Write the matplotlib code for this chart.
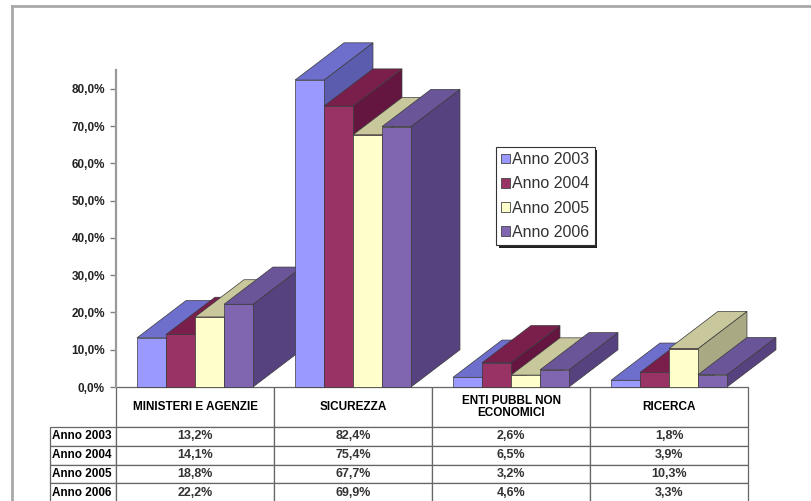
import matplotlib
matplotlib.use('Agg')
import matplotlib.pyplot as plt
from matplotlib.patches import Polygon, Patch
from matplotlib.lines import Line2D
from matplotlib.table import Table

plt.rcParams['font.family'] = ['Liberation Sans', 'DejaVu Sans']

categories = ['MINISTERI E AGENZIE', 'SICUREZZA', 'ENTI PUBBL NON\nECONOMICI', 'RICERCA']
years = ['Anno 2003', 'Anno 2004', 'Anno 2005', 'Anno 2006']
v2003 = [13.2, 82.4, 2.6, 1.8]
v2004 = [14.1, 75.4, 6.5, 3.9]
v2005 = [18.8, 67.7, 3.2, 10.3]
v2006 = [22.2, 69.9, 4.6, 3.3]
series = [v2003, v2004, v2005, v2006]
yticks = [0, 10, 20, 30, 40, 50, 60, 70, 80]

# front, top, side colours per series
colors = [
    ('#9999ff', '#6e6ecc', '#5c5cae'),
    ('#993366', '#7a1f4c', '#641540'),
    ('#ffffcc', '#c8c89c', '#a9a984'),
    ('#8066b0', '#6a5598', '#574280'),
]

W, H = 811, 501
fig = plt.figure(figsize=(W / 100, H / 100), dpi=100)
fig.patch.set_facecolor('white')

# plot area: x 116..748 px, y 70..387 px
AW, AH = 632, 317
ax = fig.add_axes([116 / W, 114 / H, AW / W, AH / H])
ax.set_xlim(-0.5, len(categories) - 0.5)
ax.set_ylim(0, 85.1)
ax.patch.set_visible(False)

bar_w = 0.1835
dx, dy = 0.31, 10.0
edge = '#3a3a3a'
z = 2
for i in range(len(categories)):
    for j, vals in enumerate(series):
        h = vals[i]
        x0 = i + (j - 2) * bar_w
        x1 = x0 + bar_w
        front, top, side = colors[j]
        side_p = Polygon([(x1, 0), (x1 + dx, dy), (x1 + dx, h + dy), (x1, h)],
                         closed=True, fc=side, ec=edge, lw=0.5, zorder=z, clip_on=False)
        top_p = Polygon([(x0, h), (x1, h), (x1 + dx, h + dy), (x0 + dx, h + dy)],
                        closed=True, fc=top, ec=edge, lw=0.5, zorder=z + 0.1, clip_on=False)
        front_p = Polygon([(x0, 0), (x1, 0), (x1, h), (x0, h)],
                          closed=True, fc=front, ec=edge, lw=0.5, zorder=z + 0.2, clip_on=False)
        ax.add_patch(side_p)
        ax.add_patch(top_p)
        ax.add_patch(front_p)
        z += 1

for s in ['top', 'right', 'bottom']:
    ax.spines[s].set_visible(False)
ax.spines['left'].set_color('#9a9a9a')
ax.spines['left'].set_linewidth(1.6)
ax.set_xticks([])
ax.set_yticks(yticks, ['{:.1f}%'.format(t).replace('.', ',') for t in yticks],
              fontweight='bold', fontsize=8.5, color='#222222')
ax.tick_params(axis='y', length=4, width=1, color='#808080', direction='out', pad=4)

# data table under the chart (sizes in axes fractions)
col_w = 158 / AW
lab_w = 66 / AW
head_h = 40 / AH
row_h = 18.75 / AH
tab = Table(ax, bbox=[0, -(head_h + 4 * row_h), 1, head_h + 4 * row_h])
tab.auto_set_font_size(False)
line_c = '#666666'
for c, name in enumerate(categories):
    cell = tab.add_cell(0, c, width=col_w, height=head_h, text=name, loc='center')
    t = cell.get_text()
    t.set_fontweight('bold')
    t.set_fontsize(8.5)
    t.set_linespacing(1.0)
    cell.set_edgecolor(line_c)
    cell.set_linewidth(0.9)
for r, yr in enumerate(years):
    cell = tab.add_cell(r + 1, -1, width=lab_w, height=row_h, text=yr, loc='left')
    cell.PAD = 0.03
    cell.get_text().set_fontweight('bold')
    cell.get_text().set_fontsize(8.5)
    cell.set_edgecolor(line_c)
    cell.set_linewidth(0.9)
    for c in range(len(categories)):
        txt = '{:.1f}%'.format(series[r][c]).replace('.', ',')
        cell = tab.add_cell(r + 1, c, width=col_w, height=row_h, text=txt, loc='center')
        cell.get_text().set_fontweight('bold')
        cell.get_text().set_fontsize(9)
        cell.get_text().set_color('#333333')
        cell.set_edgecolor(line_c)
        cell.set_linewidth(0.9)
ax.add_table(tab)

# legend
handles = [Patch(facecolor=colors[k][0], edgecolor='#444444', linewidth=0.6) for k in range(4)]
leg = fig.legend(handles, years, loc='upper left', bbox_to_anchor=(496 / W, 1 - 147 / H),
                 borderaxespad=0, fontsize=11.5, handlelength=0.55, handleheight=0.55,
                 handletextpad=0.15, labelspacing=0.58, borderpad=0.32, fancybox=False,
                 shadow={'facecolor': '#222222', 'edgecolor': 'none', 'alpha': 1})
leg.get_frame().set_edgecolor('#333333')
leg.get_frame().set_linewidth(0.8)
for t in leg.get_texts():
    t.set_color('#333333')

# outer frame
fig.add_artist(Line2D([12 / W, 12 / W], [0, 1 - 6 / H], transform=fig.transFigure,
                      color='#a8a8a8', lw=2))
fig.add_artist(Line2D([12 / W, 1], [1 - 6 / H, 1 - 6 / H], transform=fig.transFigure,
                      color='#a8a8a8', lw=2))

fig.savefig('out.png', dpi=100)
